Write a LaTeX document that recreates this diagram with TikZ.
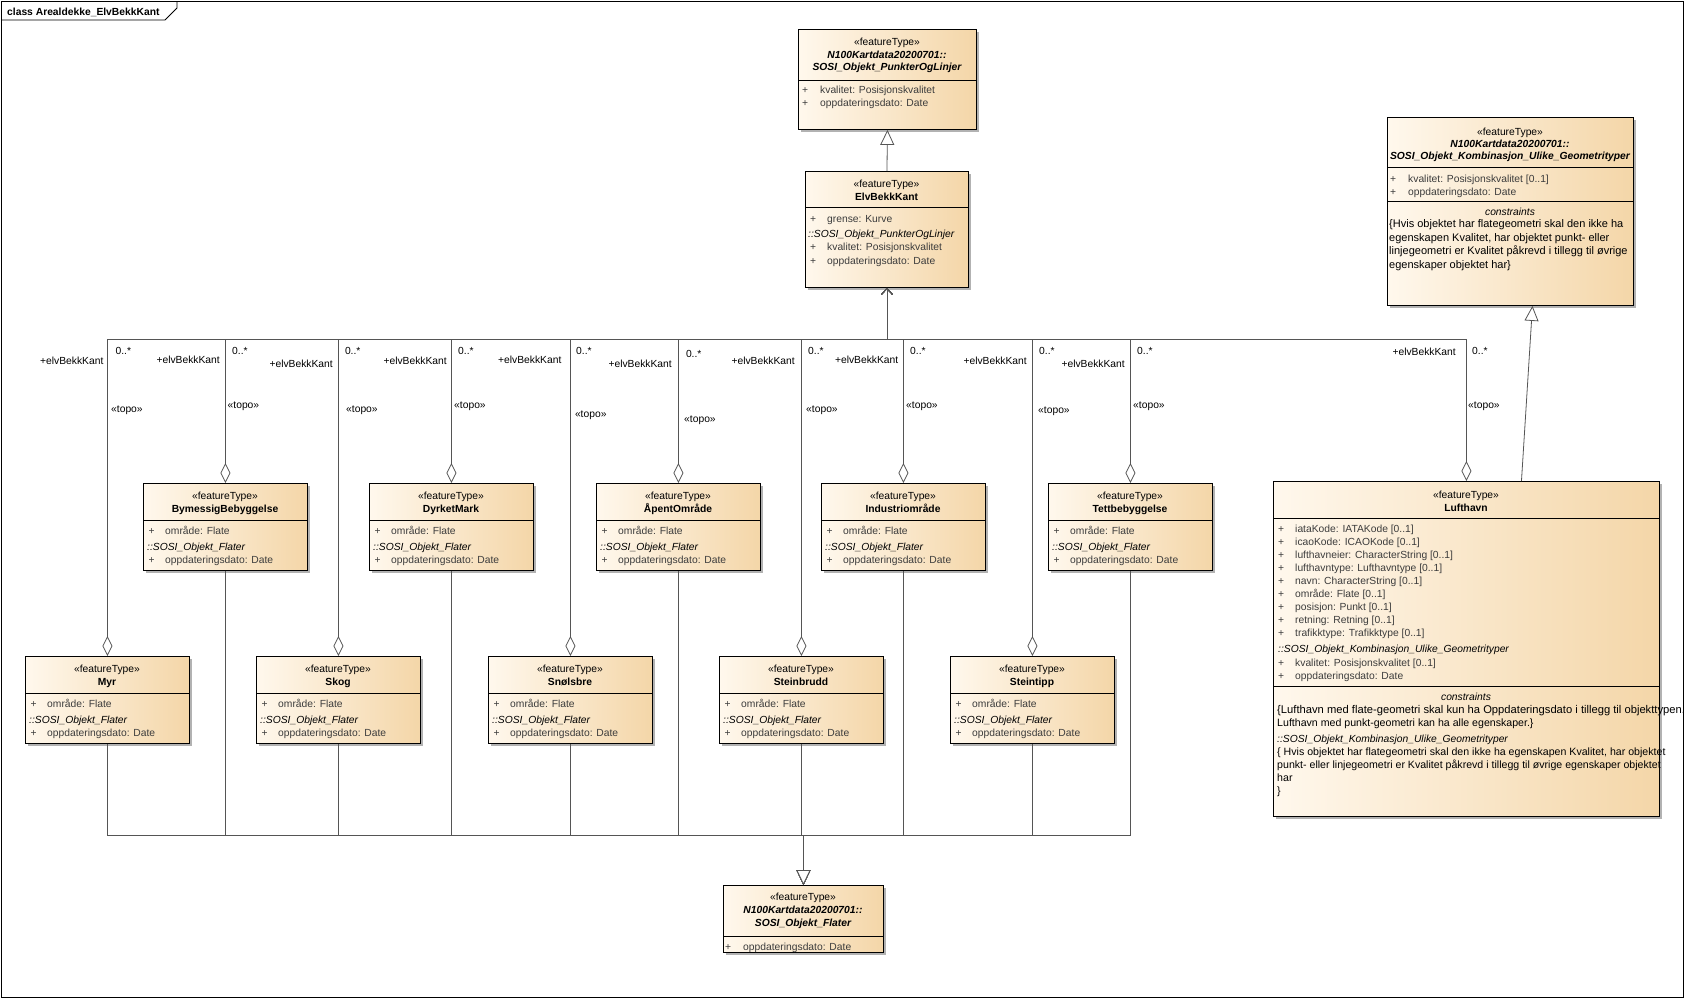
\documentclass[tikz,border=0pt]{standalone}
\usepackage{fontspec}
\setmainfont{Liberation Sans}
\usetikzlibrary{arrows.meta,shadows}
\definecolor{boxlight}{RGB}{255,248,237}
\definecolor{boxtan}{RGB}{244,214,168}
\definecolor{connc}{RGB}{85,85,85}
\definecolor{attrc}{RGB}{60,60,60}

\tikzset{
  umlbox/.style={draw=black,line width=0.9pt,anchor=north west,inner sep=0pt,
    left color=boxlight,right color=boxtan,
    drop shadow={shadow xshift=3pt,shadow yshift=-3pt,fill=black,opacity=0.3}},
  txt/.style={inner sep=0pt,text height=7.5pt,text depth=2pt,yshift=-1.5pt},
  attr/.style={txt,anchor=west,text=attrc},
  sosi/.style={txt,anchor=west,font=\itshape},
  cons/.style={txt,anchor=west},
  lbl/.style={txt},
  sepline/.style={line width=0.9pt},
  aggr/.style={draw=connc,line width=0.8pt,
    {Diamond[length=20pt,width=10pt,fill=white]}-{Straight Barb[length=6pt,width=11pt]}},
  gen/.style={draw=connc,line width=0.8pt,-{Triangle[length=15pt,width=14pt,fill=white]}},
}

\begin{document}
\fontsize{10.3}{13}\selectfont
\begin{tikzpicture}[x=1pt,y=-1pt]
  \useasboundingbox (0,0) rectangle (1685,999);
  % ---- diagram frame ----
  \draw[line width=0.9pt] (1,1) rectangle (1683,997);
  \draw[line width=0.9pt] (1,20) -- (165,20) -- (177,8) -- (177,1);
  \node[txt,anchor=west,font=\bfseries] (title) at (7,11) {class Arealdekke\_ElvBekkKant};

  % ---- SOSI_Objekt_PunkterOgLinjer ----
  \node[umlbox,minimum width=178pt,minimum height=100pt] (punkt) at (798,29) {};
  \node[txt] (punkt-st) at (887,41) {«featureType»};
  \node[txt,font=\bfseries\itshape] (punkt-pk) at (887,54) {N100Kartdata20200701::};
  \node[txt,font=\bfseries\itshape] (punkt-nm) at (887,66.5) {SOSI\_Objekt\_PunkterOgLinjer};
  \draw[sepline] (798,80) -- (976,80);
  \node[attr] (punkt-p0) at (802,89) {+};
  \node[attr] (punkt-a0) at (820,89) {kvalitet: Posisjonskvalitet};
  \node[attr] (punkt-p1) at (802,102) {+};
  \node[attr] (punkt-a1) at (820,102) {oppdateringsdato: Date};

  % ---- ElvBekkKant ----
  \node[umlbox,minimum width=163pt,minimum height=116pt] (elv) at (805,171) {};
  \node[txt] (elv-st) at (886.5,183) {«featureType»};
  \node[txt,font=\bfseries] (elv-nm) at (886.5,196) {ElvBekkKant};
  \draw[sepline] (805,207) -- (968,207);
  \node[attr] (elv-p0) at (810,218) {+};
  \node[attr] (elv-a0) at (827,218) {grense: Kurve};
  \node[sosi] (elv-in) at (808,233) {::SOSI\_Objekt\_PunkterOgLinjer};
  \node[attr] (elv-p1) at (810,246) {+};
  \node[attr] (elv-a1) at (827,246) {kvalitet: Posisjonskvalitet};
  \node[attr] (elv-p2) at (810,260) {+};
  \node[attr] (elv-a2) at (827,260) {oppdateringsdato: Date};

  % ---- SOSI_Objekt_Kombinasjon_Ulike_Geometrityper ----
  \node[umlbox,minimum width=246pt,minimum height=188pt] (komb) at (1387,117) {};
  \node[txt] (komb-st) at (1510,131) {«featureType»};
  \node[txt,font=\bfseries\itshape] (komb-pk) at (1510,143) {N100Kartdata20200701::};
  \node[txt,font=\bfseries\itshape] (komb-nm) at (1510,155) {SOSI\_Objekt\_Kombinasjon\_Ulike\_Geometrityper};
  \draw[sepline] (1387,167) -- (1633,167);
  \node[attr] (komb-p0) at (1390,178) {+};
  \node[attr] (komb-a0) at (1408,178) {kvalitet: Posisjonskvalitet [0..1]};
  \node[attr] (komb-p1) at (1390,191) {+};
  \node[attr] (komb-a1) at (1408,191) {oppdateringsdato: Date};
  \draw[sepline] (1387,201) -- (1633,201);
  \node[txt,font=\itshape] (komb-ch) at (1510,211) {constraints};
  \foreach \c [count=\i from 0] in {{\{Hvis objektet har flategeometri skal den ikke ha},
      {egenskapen Kvalitet, har objektet punkt- eller},
      {linjegeometri er Kvalitet påkrevd i tillegg til øvrige},
      {egenskaper objektet har\}}}
    \node[cons,font=\fontsize{11}{13}\selectfont] (komb-c\i) at (1389,223.5+13.5*\i) {\c};

  % ---- Lufthavn ----
  \node[umlbox,minimum width=386pt,minimum height=335pt] (luft) at (1273,481) {};
  \node[txt] (luft-st) at (1466,494) {«featureType»};
  \node[txt,font=\bfseries] (luft-nm) at (1466,507) {Lufthavn};
  \draw[sepline] (1273,518) -- (1659,518);
  \foreach \a [count=\i from 0] in {iataKode: IATAKode [0..1], icaoKode: ICAOKode [0..1],
      lufthavneier: CharacterString [0..1], lufthavntype: Lufthavntype [0..1],
      navn: CharacterString [0..1], område: Flate [0..1], posisjon: Punkt [0..1],
      retning: Retning [0..1], trafikktype: Trafikktype [0..1]}{
    \node[attr] (luft-p\i) at (1278,528+13*\i) {+};
    \node[attr] (luft-a\i) at (1295,528+13*\i) {\a};}
  \node[sosi] (luft-in) at (1278,648) {::SOSI\_Objekt\_Kombinasjon\_Ulike\_Geometrityper};
  \node[attr] (luft-p9) at (1278,662) {+};
  \node[attr] (luft-a9) at (1295,662) {kvalitet: Posisjonskvalitet [0..1]};
  \node[attr] (luft-p10) at (1278,675) {+};
  \node[attr] (luft-a10) at (1295,675) {oppdateringsdato: Date};
  \draw[sepline] (1273,686) -- (1659,686);
  \node[txt,font=\itshape] (luft-ch) at (1466,696) {constraints};
  \node[cons,font=\fontsize{11.2}{13}\selectfont] (luft-c0) at (1277,709) {\{Lufthavn med flate-geometri skal kun ha Oppdateringsdato i tillegg til objekttypen.};
  \node[cons,font=\fontsize{10.6}{13}\selectfont] (luft-c1) at (1277,722) {Lufthavn med punkt-geometri kan ha alle egenskaper.\}};
  \node[sosi] (luft-ci) at (1277,738) {::SOSI\_Objekt\_Kombinasjon\_Ulike\_Geometrityper};
  \foreach \c [count=\i from 2] in {{\{ Hvis objektet har flategeometri skal den ikke ha egenskapen Kvalitet, har objektet},
      {punkt- eller linjegeometri er Kvalitet påkrevd i tillegg til øvrige egenskaper objektet},
      {har}, {\}}}
    \node[cons,font=\fontsize{10.6}{13}\selectfont] (luft-c\i) at (1277,751+13*\i-26) {\c};

  % ---- SOSI_Objekt_Flater ----
  \node[umlbox,minimum width=160pt,minimum height=67pt] (flater) at (723,885) {};
  \node[txt] (flater-st) at (803,896) {«featureType»};
  \node[txt,font=\bfseries\itshape] (flater-pk) at (803,909) {N100Kartdata20200701::};
  \node[txt,font=\bfseries\itshape] (flater-nm) at (803,922.5) {SOSI\_Objekt\_Flater};
  \draw[sepline] (723,936) -- (883,936);
  \node[attr] (flater-p0) at (725,946) {+};
  \node[attr] (flater-a0) at (743,946) {oppdateringsdato: Date};

  % ---- area classes (two rows) ----
  \foreach \nm/\bx/\by/\ttl in {bym/143/483/BymessigBebyggelse, dyrk/369/483/DyrketMark,
      apent/596/483/ÅpentOmråde, indus/821/483/Industriområde, tett/1048/483/Tettbebyggelse,
      myr/25/656/Myr, skog/256/656/Skog, snol/488/656/Snølsbre, steinbr/719/656/Steinbrudd,
      steint/950/656/Steintipp}{
    \node[umlbox,minimum width=164pt,minimum height=87pt] (\nm) at (\bx,\by) {};
    \node[txt] (\nm-st) at (\bx+82,\by+12.5) {«featureType»};
    \node[txt,font=\bfseries] (\nm-nm) at (\bx+82,\by+25.5) {\ttl};
    \draw[sepline] (\bx,\by+37) -- (\bx+164,\by+37);
    \node[attr] (\nm-p0) at (\bx+5.5,\by+47.5) {+};
    \node[attr] (\nm-a0) at (\bx+22,\by+47.5) {område: Flate};
    \node[sosi] (\nm-in) at (\bx+4,\by+63) {::SOSI\_Objekt\_Flater};
    \node[attr] (\nm-p1) at (\bx+5.5,\by+76.5) {+};
    \node[attr] (\nm-a1) at (\bx+22,\by+76.5) {oppdateringsdato: Date};
  }

  % ---- connectors ----
  \coordinate (topbus) at (0,339);
  \coordinate (lowbus) at (0,835);
  \draw[gen] (elv.north) -- (punkt.south);
  \draw[gen] ([xshift=55pt]luft.north) -- ([xshift=22pt]komb.south);
  \foreach \nm in {bym,dyrk,apent,indus,tett,myr,skog,snol,steinbr,steint}
    \draw[gen] (\nm.south) -- (\nm.south |- lowbus) -- (flater.north |- lowbus) -- (flater.north);
  \foreach \nm in {myr,bym,skog,dyrk,snol,apent,steinbr,indus,steint,tett,luft}
    \draw[aggr] (\nm.north) -- (\nm.north |- topbus) -- (elv.south |- topbus) -- (elv.south);

  % ---- association end labels ----
  \foreach \nm/\rx/\ry/\mx/\my/\tx/\ty in {myr/103.6/360/115.4/350/111/408,
      bym/220/359/232/350/227.5/404, skog/333/363/344.8/350/346/408,
      dyrk/447/360/458/350/454/404, snol/561.6/359/576/350/574.8/413,
      apent/672/363/685.8/353/684/418, steinbr/795/360/808/350/806/408,
      indus/898.5/359/910/350/906/404, steint/1027/360/1039/350/1038/409,
      tett/1125/363/1137/350/1133/404, luft/1456/351/1472/350/1468/404}{
    \node[lbl,anchor=east] (\nm-role) at (\rx,\ry) {+elvBekkKant};
    \node[lbl,anchor=west] (\nm-mult) at (\mx,\my) {0..*};
    \node[lbl,anchor=west] (\nm-topo) at (\tx,\ty) {«topo»};
  }
\end{tikzpicture}
\end{document}
